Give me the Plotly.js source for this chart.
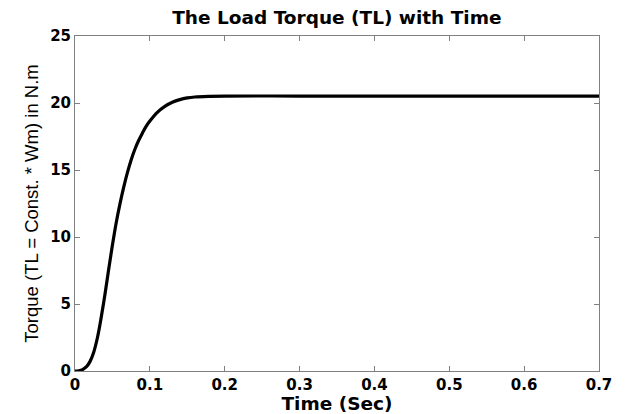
<!DOCTYPE html>
<html>
<head>
<meta charset="utf-8">
<script src="https://cdn.plot.ly/plotly-3.0.1.min.js"></script>
<style>html,body{margin:0;padding:0;background:#fff;}#chart{width:625px;height:414px;}</style>
</head>
<body>
<div id="chart"></div>
<script>
const timeSec = [0, 0.005, 0.01, 0.015, 0.02, 0.025, 0.03, 0.035, 0.04, 0.045, 0.05, 0.055, 0.06, 0.065, 0.07, 0.075, 0.08, 0.085, 0.09, 0.095, 0.1, 0.11, 0.12, 0.13, 0.14, 0.15, 0.16, 0.18, 0.2, 0.3, 0.4, 0.5, 0.6, 0.7];
const torque = [0, 0.02, 0.1, 0.3, 0.7, 1.4, 2.5, 4.0, 5.7, 7.6, 9.4, 11.05, 12.45, 13.7, 14.8, 15.75, 16.55, 17.2, 17.75, 18.25, 18.65, 19.3, 19.75, 20.05, 20.25, 20.38, 20.45, 20.5, 20.52, 20.52, 20.52, 20.52, 20.52, 20.52];
const xTicks = [0, 0.1, 0.2, 0.3, 0.4, 0.5, 0.6, 0.7];
const xTickLabels = ['0', '0.1', '0.2', '0.3', '0.4', '0.5', '0.6', '0.7'];
const yTicks = [0, 5, 10, 15, 20, 25];
const yTickLabels = ['0', '5', '10', '15', '20', '25'];

const boldFont = {family: 'DejaVu Sans', size: 15, color: '#000', weight: 'bold'};

const data = [{
  x: timeSec, y: torque, type: 'scatter', mode: 'lines',
  line: {color: '#000', width: 3.2, shape: 'spline', smoothing: 1},
  hoverinfo: 'none'
}];

const axisCommon = {
  showgrid: false, zeroline: false, showline: true, linecolor: '#808080', linewidth: 1,
  mirror: 'ticks', ticks: 'inside', ticklen: 5, tickcolor: '#808080', tickwidth: 1,
  tickfont: boldFont
};

const layout = {
  width: 625, height: 414,
  margin: {l: 75, r: 26, t: 36, b: 43},
  paper_bgcolor: '#fff', plot_bgcolor: '#fff',
  showlegend: false,
  title: {text: 'The Load Torque (TL) with Time', font: {family: 'DejaVu Sans', size: 18.5, color: '#000', weight: 'bold'},
    x: 0.539, xanchor: 'center', xref: 'container', y: 0.957, yanchor: 'middle', yref: 'container'},
  xaxis: Object.assign({}, axisCommon, {
    range: [0, 0.7], tickvals: xTicks, ticktext: xTickLabels,
    title: {text: 'Time (Sec)', font: {family: 'DejaVu Sans', size: 18.5, color: '#000', weight: 'bold'}, standoff: 0}
  }),
  yaxis: Object.assign({}, axisCommon, {
    range: [0, 25], tickvals: yTicks, ticktext: yTickLabels,
    title: {text: 'Torque (TL = Const. * Wm) in N.m', font: {family: 'Liberation Sans', size: 18.5, color: '#000'}, standoff: 6}
  })
};

Plotly.newPlot('chart', data, layout, {staticPlot: true, displayModeBar: false});
</script>
</body>
</html>
